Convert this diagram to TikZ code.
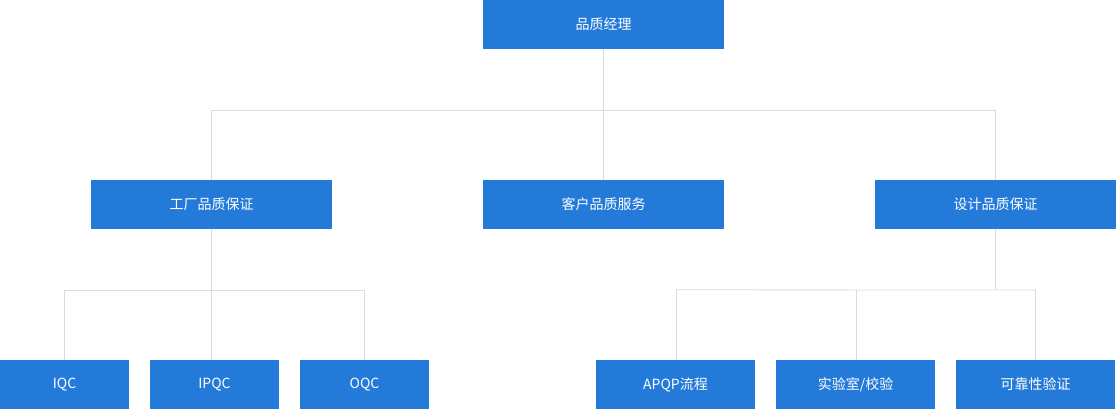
\documentclass[tikz,border=0pt]{standalone}
\usepackage{fontspec}
\setmainfont{Noto Sans CJK SC}
\begin{document}
\begin{tikzpicture}[x=1pt,y=-1pt,
  bx/.style={fill=boxblue,text=white,minimum height=49pt,inner sep=0pt,font=\fontsize{14}{16}\selectfont},
  wide/.style={bx,minimum width=241pt},
  narrow/.style={bx,minimum width=129pt},
  mid/.style={bx,minimum width=159pt},
  ln/.style={draw=linegray,line width=0.8pt}]
\definecolor{boxblue}{HTML}{237AD9}
\definecolor{linegray}{HTML}{D5DDE8}
\useasboundingbox (0,0) rectangle (1117,410);
\node[wide] (top) at (603.5,24.5) {品质经理};
\node[wide] (f) at (211.5,204.5) {工厂品质保证};
\node[wide] (c) at (603.5,204.5) {客户品质服务};
\node[wide] (d) at (995.5,204.5) {设计品质保证};
\node[narrow] (iqc) at (64.5,384.5) {IQC};
\node[narrow] (ipqc) at (214.5,384.5) {IPQC};
\node[narrow] (oqc) at (364.5,384.5) {OQC};
\node[mid] (apqp) at (675.5,384.5) {APQP流程};
\node[mid] (lab) at (855.5,384.5) {实验室/校验};
\node[mid] (rel) at (1035.5,384.5) {可靠性验证};
\coordinate (h1) at (603.5,110);
\coordinate (h2) at (211.5,290);
\coordinate (h3) at (995.5,290);
\draw[ln] (top.south) -- (c.north);
\draw[ln] (f.north) -- (f.north |- h1) -- (d.north |- h1) -- (d.north);
\draw[ln] (f.south) -- (h2);
\draw[ln] (iqc.north) -- (iqc.north |- h2) -- (oqc.north |- h2) -- (oqc.north);
\draw[ln] (ipqc.north) ++(-3,0) -- ++(0,-70);
\draw[ln] (d.south) -- (h3);
\draw[ln] (apqp.north) ++(1,0) -- ++(0,-70) -- (rel.north |- h3) -- (rel.north);
\draw[ln] (lab.north) ++(1,0) -- ++(0,-70);
\end{tikzpicture}
\end{document}
